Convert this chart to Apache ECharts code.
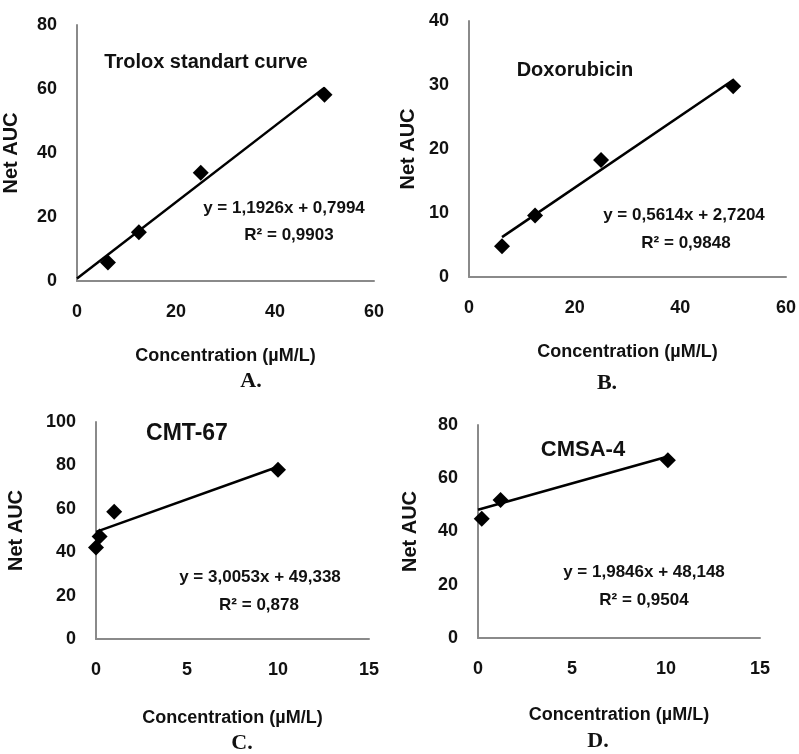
<!DOCTYPE html>
<html>
<head>
<meta charset="utf-8">
<script src="https://cdn.jsdelivr.net/npm/echarts@6/dist/echarts.min.js"></script>
<style>
  html, body { margin: 0; padding: 0; background: #fff; }
  #chart { width: 799px; height: 754px; }
</style>
</head>
<body>
<div id="chart"></div>
<script>
const troloxPoints = [[0, -0.8], [6.25, 5.8], [12.5, 15.2], [25, 33.8], [50, 58.2]];
const troloxTrend = [[0, 0.8], [50, 60.43]];
const doxoPoints = [[6.25, 4.8], [12.5, 9.6], [25, 18.3], [50, 29.8]];
const doxoTrend = [[6.25, 6.23], [50, 30.79]];
const cmtPoints = [[0, 42.2], [0.2, 47.2], [1, 58.6], [10, 78]];
const cmtTrend = [[0, 49.34], [10, 79.39]];
const cmsaPoints = [[0.2, 44.8], [1.2, 51.8], [10.1, 66.8]];
const cmsaTrend = [[0, 48.15], [10.1, 68.19]];

const panelTitles = ['Trolox standart curve', 'Doxorubicin', 'CMT-67', 'CMSA-4'];
const equations = ['y = 1,1926x + 0,7994', 'y = 0,5614x + 2,7204', 'y = 3,0053x + 49,338', 'y = 1,9846x + 48,148'];
const rSquared = ['R² = 0,9903', 'R² = 0,9848', 'R² = 0,878', 'R² = 0,9504'];
const panelLetters = ['A.', 'B.', 'C.', 'D.'];
const xAxisName = 'Concentration (µM/L)';
const yAxisNames = ['Net AUC', 'Net AUC', 'Net AUC', 'Net AUC'];

const font = '"Liberation Sans", Arial, sans-serif';
const axisGray = '#8a8a8a';

const grids = [
  { left: 74, top: 25, width: 300, height: 256 },
  { left: 469, top: 21, width: 319, height: 256 },
  { left: 96, top: 422, width: 273, height: 217 },
  { left: 478, top: 425, width: 282, height: 213 }
];
const xRanges = [[0, 60, 20], [0, 60, 20], [0, 15, 5], [0, 15, 5]];
const yRanges = [[0, 80, 20], [0, 40, 10], [0, 100, 20], [0, 80, 20]];
const xNameGaps = [66, 66, 70, 68];
const yNameGaps = [56, 51, 70, 58];

function xAxis(i) {
  return {
    gridIndex: i, type: 'value',
    min: xRanges[i][0], max: xRanges[i][1], interval: xRanges[i][2],
    name: xAxisName, nameLocation: 'middle', nameGap: xNameGaps[i],
    nameTextStyle: { fontFamily: font, fontWeight: 'bold', fontSize: 18, color: '#111' },
    axisLine: { show: true, onZero: false, lineStyle: { color: axisGray, width: 2 } },
    axisTick: { show: false },
    splitLine: { show: false },
    axisLabel: { fontFamily: font, fontWeight: 'bold', fontSize: 18, color: '#111', margin: 22 }
  };
}

function yAxis(i) {
  return {
    gridIndex: i, type: 'value',
    min: yRanges[i][0], max: yRanges[i][1], interval: yRanges[i][2],
    name: yAxisNames[i], nameLocation: 'middle', nameGap: yNameGaps[i],
    nameTextStyle: { fontFamily: font, fontWeight: 'bold', fontSize: 20, color: '#111' },
    axisLine: { show: true, onZero: false, lineStyle: { color: axisGray, width: 2 } },
    axisTick: { show: false },
    splitLine: { show: false },
    axisLabel: { fontFamily: font, fontWeight: 'bold', fontSize: 18, color: '#111', margin: 20 }
  };
}

const pointSets = [troloxPoints, doxoPoints, cmtPoints, cmsaPoints];
const trendSets = [troloxTrend, doxoTrend, cmtTrend, cmsaTrend];

const series = [];
pointSets.forEach((pts, i) => {
  series.push({
    type: 'line', xAxisIndex: i, yAxisIndex: i, data: trendSets[i],
    symbol: 'none', lineStyle: { color: '#000', width: 2.5 }, z: 2, silent: true
  });
  series.push({
    type: 'scatter', xAxisIndex: i, yAxisIndex: i, data: pts,
    symbol: 'diamond', symbolSize: [16, 16], itemStyle: { color: '#000', opacity: 1 }, z: 3
  });
});

function txt(x, y, text, size, family, align) {
  return {
    type: 'text', x: x, y: y,
    style: {
      text: text, fontFamily: family || font, fontWeight: 'bold', fontSize: size,
      fill: '#111', align: align || 'center', verticalAlign: 'middle'
    }
  };
}

const serif = '"Liberation Serif", "Times New Roman", serif';
const graphic = [
  txt(206, 62, panelTitles[0], 20),
  txt(575, 70, panelTitles[1], 20),
  txt(187, 434, panelTitles[2], 23),
  txt(583, 450, panelTitles[3], 22),
  txt(284, 208, equations[0], 17),
  txt(289, 235, rSquared[0], 17),
  txt(684, 215, equations[1], 17),
  txt(686, 243, rSquared[1], 17),
  txt(260, 577, equations[2], 17),
  txt(259, 605, rSquared[2], 17),
  txt(644, 572, equations[3], 17),
  txt(644, 600, rSquared[3], 17),
  txt(251, 381, panelLetters[0], 22, serif),
  txt(607, 383, panelLetters[1], 22, serif),
  txt(242, 743, panelLetters[2], 22, serif),
  txt(598, 741, panelLetters[3], 22, serif)
];

const chart = echarts.init(document.getElementById('chart'));
chart.setOption({
  animation: false,
  backgroundColor: '#fff',
  grid: grids,
  xAxis: [0, 1, 2, 3].map(xAxis),
  yAxis: [0, 1, 2, 3].map(yAxis),
  series: series,
  graphic: graphic
});
</script>
</body>
</html>
